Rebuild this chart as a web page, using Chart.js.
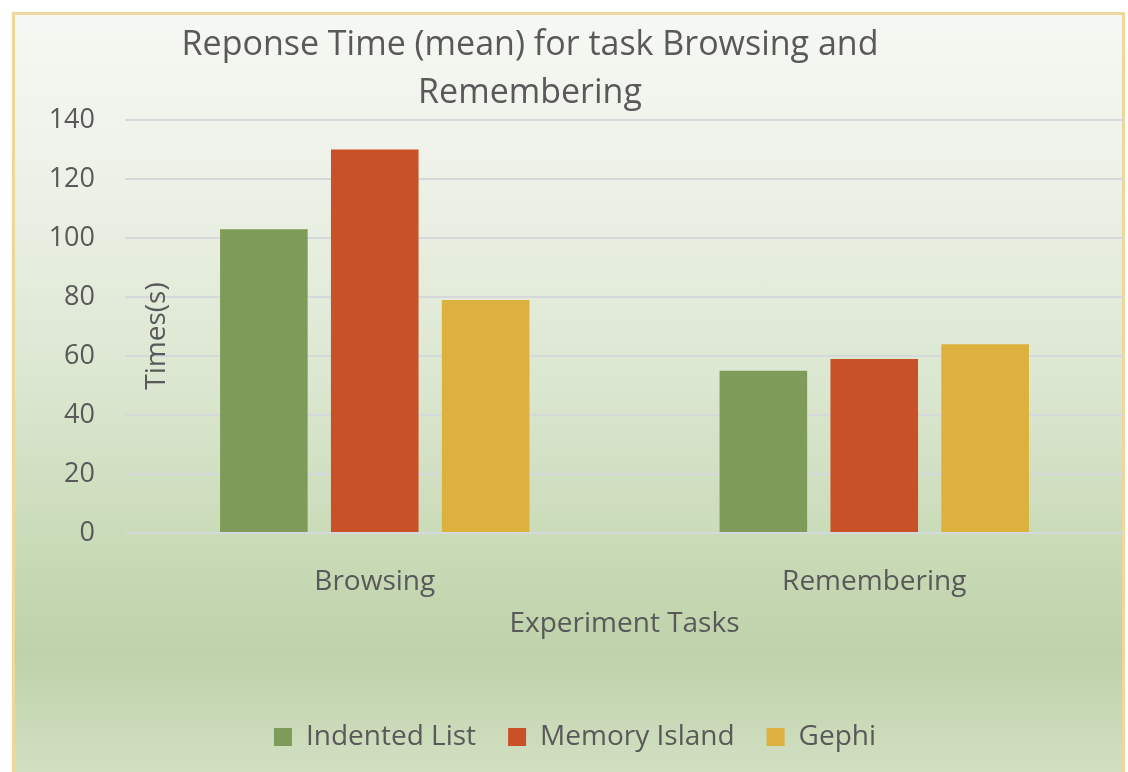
<!DOCTYPE html>
<html lang="en">
<head>
  <meta charset="UTF-8" />
  <title>Reponse Time (mean) for task Browsing and Remembering</title>
  <script src="https://cdn.jsdelivr.net/npm/chart.js"></script>
  <style>
    body {
      margin: 0;
      background: #fff;
      font-family: "Open Sans", sans-serif;
    }
    #frame {
      position: absolute;
      left: 12px;
      top: 12px;
      width: 1107px;
      height: 800px;
      border: 3px solid #eed69c;
      background: linear-gradient(to bottom,
        #f6f8f3 0px, #eef2e9 150px, #dde8d3 350px,
        #c8dab6 540px, #bfd2aa 640px, #d2e0c2 760px);
    }
    #chart {
      position: absolute;
      left: 0;
      top: 0;
    }
  </style>
</head>
<body>
  <div id="frame"></div>
  <canvas id="chart" width="1128" height="772"></canvas>

  <script>
    const tasks = ["Browsing", "Remembering"];
    const indentedList = [103, 55];
    const memoryIsland = [130, 59];
    const gephi = [79, 64];

    const titleLines = ["Reponse Time (mean) for task Browsing and", "Remembering"];
    const yTitle = "Times(s)";
    const xTitle = "Experiment Tasks";

    const textColor = "#595959";
    const fontFamily = "'Open Sans', sans-serif";

    // title and y axis title sit in odd places, draw them by hand
    const extraText = {
      id: "extraText",
      afterDraw(chart) {
        const c = chart.ctx;
        c.save();
        c.fillStyle = textColor;
        c.textAlign = "center";
        c.textBaseline = "middle";
        c.font = "34px " + fontFamily;
        c.fillText(titleLines[0], 530, 45);
        c.fillText(titleLines[1], 530, 93);
        c.translate(157, 336);
        c.rotate(-Math.PI / 2);
        c.font = "28px " + fontFamily;
        c.fillText(yTitle, 0, 0);
        c.restore();
      }
    };

    new Chart(document.getElementById("chart"), {
      type: "bar",
      data: {
        labels: tasks,
        datasets: [
          { label: "Indented List", data: indentedList, backgroundColor: "#7f9b59" },
          { label: "Memory Island", data: memoryIsland, backgroundColor: "#c95128" },
          { label: "Gephi", data: gephi, backgroundColor: "#dcb13d" }
        ]
      },
      options: {
        responsive: false,
        animation: false,
        categoryPercentage: 0.666,
        barPercentage: 0.79,
        layout: { padding: { top: 120, left: 26, right: 4, bottom: 11 } },
        plugins: {
          title: { display: false },
          tooltip: { enabled: false },
          legend: {
            position: "bottom",
            labels: {
              color: textColor,
              font: { family: fontFamily, size: 28 },
              boxWidth: 18,
              boxHeight: 18,
              padding: 32
            }
          }
        },
        scales: {
          x: {
            grid: { display: false },
            border: { display: false },
            ticks: {
              color: textColor,
              font: { family: fontFamily, size: 28 },
              padding: 24
            },
            title: {
              display: true,
              text: xTitle,
              color: textColor,
              font: { family: fontFamily, size: 28 },
              padding: { top: 0, bottom: 50 }
            },
            afterFit: s => { s.height = 158; }
          },
          y: {
            min: 0,
            max: 140,
            grid: { color: "#d6d9dc", lineWidth: 2, drawTicks: false },
            border: { display: false },
            ticks: {
              stepSize: 20,
              color: textColor,
              font: { family: fontFamily, size: 27 },
              padding: 30
            },
            afterFit: s => { s.width = 99; }
          }
        }
      },
      plugins: [extraText]
    });
  </script>
</body>
</html>
